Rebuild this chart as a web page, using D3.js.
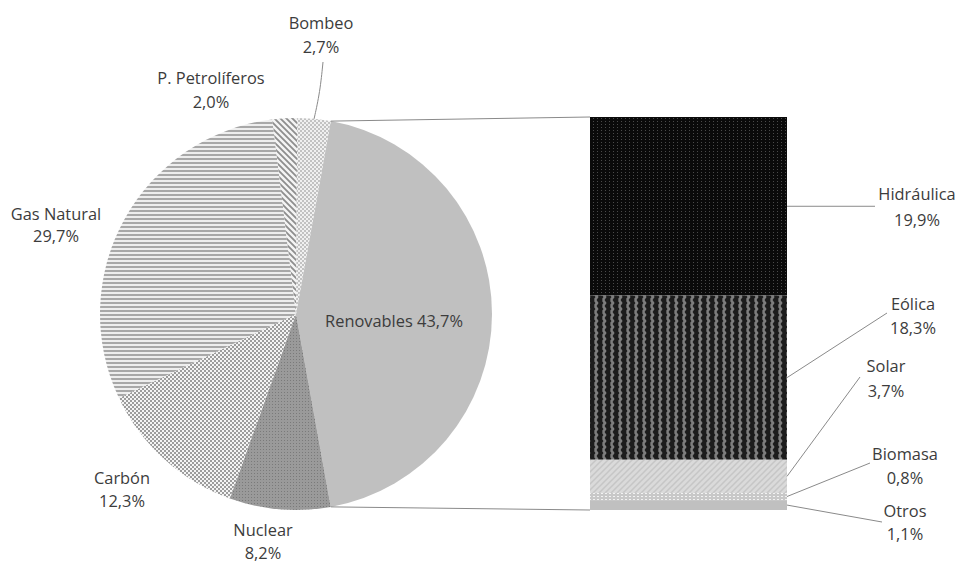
<!DOCTYPE html>
<html>
<head>
<meta charset="utf-8">
<script src="https://cdn.jsdelivr.net/npm/d3@7"></script>
<style>
  html, body { margin: 0; padding: 0; background: #ffffff; }
  svg { display: block; }
  text { font-family: "Open Sans", "DejaVu Sans", sans-serif; font-size: 16.4px; fill: #3c3c3c; }
</style>
</head>
<body>
<svg id="chart" width="956" height="564"></svg>
<script>
// Electricity generation mix: main pie, with renewables broken down in a stacked bar
const pieLabels = ["Renovables", "Nuclear", "Carbón", "Gas Natural", "P. Petrolíferos", "Bombeo"];
const pieValues = [43.7, 8.2, 12.3, 29.7, 2.0, 2.7];

const barLabels = ["Hidráulica", "Eólica", "Solar", "Biomasa", "Otros"];
const barValues = [19.9, 18.3, 3.7, 0.8, 1.1];

const svg = d3.select("#chart");
const defs = svg.append("defs");

// ---------- fill patterns ----------
function pattern(id, w, h, bg, draw) {
  const p = defs.append("pattern").attr("id", id)
    .attr("patternUnits", "userSpaceOnUse").attr("width", w).attr("height", h);
  p.append("rect").attr("width", w).attr("height", h).attr("fill", bg);
  draw(p);
}
// Gas natural: horizontal lines
pattern("pGas", 6, 4, "#eeeeee", p => {
  p.append("rect").attr("y", 0).attr("width", 6).attr("height", 2).attr("fill", "#a8a8a8");
});
// Carbón: dotted checker
pattern("pCarbon", 4, 4, "#f4f4f4", p => {
  p.append("rect").attr("x", 0).attr("y", 0).attr("width", 2).attr("height", 2).attr("fill", "#9c9c9c");
  p.append("rect").attr("x", 2).attr("y", 2).attr("width", 2).attr("height", 2).attr("fill", "#9c9c9c");
});
// Nuclear: medium grey with fine dots
pattern("pNuclear", 3, 3, "#9a9a9a", p => {
  p.append("rect").attr("width", 1).attr("height", 1).attr("fill", "#7a7a7a");
});
// P. Petrolíferos: diagonal lines
pattern("pPetro", 6, 6, "#f4f4f4", p => {
  p.append("path").attr("d", "M-1,-1 L7,7 M-1,5 L1,7 M5,-1 L7,1")
    .attr("stroke", "#8e8e8e").attr("stroke-width", 1.8);
});
// Bombeo: small light checker
pattern("pBombeo", 4, 4, "#f0f0f0", p => {
  p.append("rect").attr("width", 2).attr("height", 2).attr("fill", "#c2c2c2");
  p.append("rect").attr("x", 2).attr("y", 2).attr("width", 2).attr("height", 2).attr("fill", "#c2c2c2");
});
// Hidráulica: black with faint grey dot grid
pattern("pHidro", 4, 3, "#0a0a0a", p => {
  p.append("rect").attr("x", 1).attr("y", 1).attr("width", 1).attr("height", 1).attr("fill", "#4a4a4a");
});
// Eólica: vertical zigzag stripes
pattern("pEolica", 8, 6, "#1c1c1c", p => {
  p.append("path").attr("d", "M3,0 L5,3 L3,6").attr("fill", "none")
    .attr("stroke", "#7e7e7e").attr("stroke-width", 2.6);
});
// Solar: light weave
pattern("pSolar", 6, 6, "#dadada", p => {
  p.append("path").attr("d", "M0,6 L6,0 M-1,1 L1,-1 M5,7 L7,5").attr("stroke", "#c6c6c6").attr("stroke-width", 1.5);
});
// Biomasa: light with white dots
pattern("pBiomasa", 4, 3, "#c8c8c8", p => {
  p.append("rect").attr("x", 1).attr("y", 1).attr("width", 2).attr("height", 1).attr("fill", "#f2f2f2");
});

const pieFills = ["#c0c0c0", "url(#pNuclear)", "url(#pCarbon)", "url(#pGas)", "url(#pPetro)", "url(#pBombeo)"];
const barFills = ["url(#pHidro)", "url(#pEolica)", "url(#pSolar)", "url(#pBiomasa)", "#c0c0c0"];

const fmt = v => d3.format(".1f")(v).replace(".", ",") + "%";

// ---------- pie ----------
const cx = 296, cy = 314, r = 196;
const pieTotal = d3.sum(pieValues);
// the renewables slice is centred on the right, facing the bar
const renSpan = pieValues[0] / pieTotal * 2 * Math.PI;
const a0 = Math.PI / 2 - renSpan / 2;
const pie = d3.pie().sort(null).startAngle(a0).endAngle(a0 + 2 * Math.PI);
const arcs = pie(pieValues);
const arc = d3.arc().innerRadius(0).outerRadius(r);

const gPie = svg.append("g").attr("transform", `translate(${cx},${cy})`);
gPie.selectAll("path").data(arcs).join("path")
  .attr("d", arc)
  .attr("fill", (d, i) => pieFills[i]);

// ---------- stacked bar ----------
const barX0 = 590, barX1 = 787, barTop = 117, barBottom = 510;
const y = d3.scaleLinear().domain([0, d3.sum(barValues)]).range([barTop, barBottom]);
const cum = d3.cumsum(barValues);
const segs = barValues.map((v, i) => ({ label: barLabels[i], value: v, y0: cum[i] - v, y1: cum[i] }));

svg.append("g").selectAll("rect").data(segs).join("rect")
  .attr("x", barX0).attr("width", barX1 - barX0)
  .attr("y", d => y(d.y0)).attr("height", d => y(d.y1) - y(d.y0))
  .attr("fill", (d, i) => barFills[i]);

// connector lines from the renewables slice to the bar
const pt = a => [cx + r * Math.sin(a), cy - r * Math.cos(a)];
const ren = arcs[0];
const pTop = pt(ren.startAngle), pBot = pt(ren.endAngle);
svg.append("line").attr("x1", pTop[0]).attr("y1", pTop[1]).attr("x2", barX0).attr("y2", y(0))
  .attr("stroke", "#8a8a8a").attr("stroke-width", 1);
svg.append("line").attr("x1", pBot[0]).attr("y1", pBot[1]).attr("x2", barX0).attr("y2", y(d3.sum(barValues)))
  .attr("stroke", "#8a8a8a").attr("stroke-width", 1);

// ---------- labels ----------
function label2(x, y1, y2, name, value) {
  const g = svg.append("g");
  g.append("text").attr("x", x).attr("y", y1).attr("text-anchor", "middle")
    .attr("dominant-baseline", "central").text(name);
  g.append("text").attr("x", x).attr("y", y2).attr("text-anchor", "middle")
    .attr("dominant-baseline", "central").text(value);
}

// pie label placement (centre x, name line y, value line y)
const pieLabelPos = {
  "Nuclear": [263, 529, 552],
  "Carbón": [122, 477, 500],
  "Gas Natural": [56, 213, 235],
  "P. Petrolíferos": [211, 77, 101],
  "Bombeo": [321, 22, 46]
};
pieLabels.forEach((name, i) => {
  if (i === 0) {
    svg.append("text").attr("x", 394).attr("y", 320).attr("text-anchor", "middle")
      .attr("dominant-baseline", "central").text(name + " " + fmt(pieValues[i]));
    return;
  }
  const p = pieLabelPos[name];
  label2(p[0], p[1], p[2], name, fmt(pieValues[i]));
});

// Bombeo leader line
const bomb = arcs[5];
const bMid = pt((bomb.startAngle + bomb.endAngle) / 2);
svg.append("path")
  .attr("d", d3.line().curve(d3.curveBasis)([[bMid[0], bMid[1]], [320, 92], [323, 62]]))
  .attr("fill", "none").attr("stroke", "#8a8a8a").attr("stroke-width", 1);

// bar label placement and leader end points
const barLabelPos = {
  "Hidráulica": { x: 917, y1: 193, y2: 219, lx: 875, ly: y(segs[0].y0 / 2 + segs[0].y1 / 2) },
  "Eólica": { x: 913, y1: 303, y2: 327, lx: 887, ly: 313 },
  "Solar": { x: 886, y1: 365, y2: 390, lx: 860, ly: 377 },
  "Biomasa": { x: 905, y1: 453, y2: 477, lx: 870, ly: 463 },
  "Otros": { x: 905, y1: 510, y2: 533, lx: 882, ly: 522 }
};
segs.forEach(s => {
  const p = barLabelPos[s.label];
  const ym = y((s.y0 + s.y1) / 2);
  svg.append("line").attr("x1", barX1).attr("y1", ym).attr("x2", p.lx).attr("y2", p.ly)
    .attr("stroke", "#8a8a8a").attr("stroke-width", 1);
  label2(p.x, p.y1, p.y2, s.label, fmt(s.value));
});
</script>
</body>
</html>
